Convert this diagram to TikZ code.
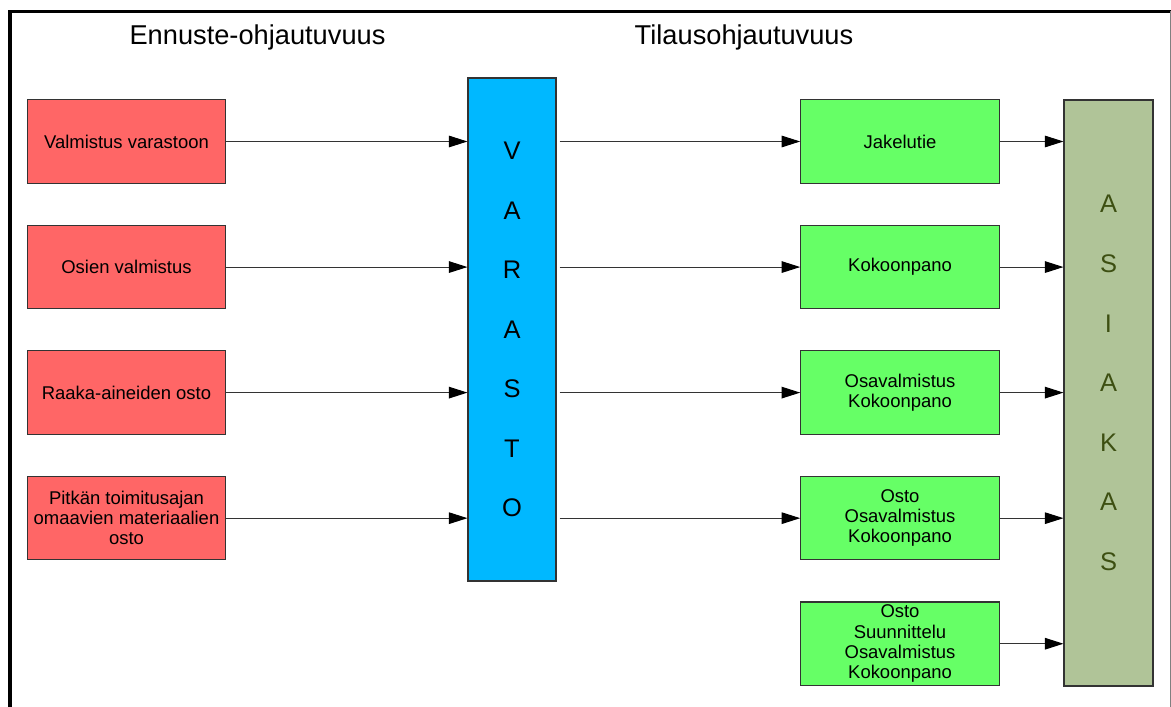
\documentclass[tikz,border=0pt]{standalone}
\usepackage{fontspec}
\setmainfont{Liberation Sans}
\usetikzlibrary{positioning,arrows.meta}
\definecolor{forecastred}{HTML}{FF6666}
\definecolor{stockblue}{HTML}{00B8FF}
\definecolor{ordergreen}{HTML}{66FF66}
\definecolor{customerolive}{HTML}{B0C498}
\definecolor{customertext}{HTML}{3D4F12}
\definecolor{edgegray}{HTML}{333333}

\begin{document}
\begin{tikzpicture}[
    node distance=0.82cm,
    phase/.style={
        rectangle,
        draw=edgegray,
        line width=0.6pt,
        minimum width=3.97cm,
        minimum height=1.67cm,
        inner sep=1pt,
        align=center,
        font=\fontsize{10.5}{11.5}\selectfont
    },
    forecast/.style={phase, fill=forecastred},
    order/.style={phase, fill=ordergreen},
    column/.style={
        rectangle,
        draw=edgegray,
        line width=0.6pt,
        inner sep=0pt,
        align=center,
        font=\fontsize{14.5}{33.9}\selectfont
    },
    heading/.style={font=\fontsize{15.5}{18}\selectfont},
    flow/.style={draw=edgegray, line width=0.6pt, -{Triangle[length=3.7mm,width=2.3mm,color=black]}}
]

\useasboundingbox (0,0) rectangle (23.42,-14.12);
\draw[line width=1.8pt] (0.2,-14.3) -- (0.2,-0.23) -- (23.5,-0.23);
\draw[gray, line width=0.5pt] (23.4,-0.23) -- (23.4,-14.3);

\node[heading] (fcasthead) at (5.15,-0.74) {Ennuste-ohjautuvuus};
\node[heading] (orderhead) at (14.88,-0.74) {Tilausohjautuvuus};

\node[forecast] (make) at (2.53,-2.83) {Valmistus varastoon};
\node[forecast, below=of make] (parts) {Osien valmistus};
\node[forecast, below=of parts] (raw) {Raaka-aineiden osto};
\node[forecast, below=of raw] (longlead) {Pitkän toimitusajan\\omaavien materiaalien\\osto};

\node[column, fill=stockblue, minimum width=1.76cm, minimum height=10.06cm] (stock) at (10.24,-6.59) {V\\A\\R\\A\\S\\T\\O};

\node[order] (dist) at (18.0,-2.83) {Jakelutie};
\node[order, below=of dist] (assy) {Kokoonpano};
\node[order, below=of assy] (partmfg) {Osavalmistus\\Kokoonpano};
\node[order, below=of partmfg] (buy) {Osto\\Osavalmistus\\Kokoonpano};
\node[order, below=of buy] (design) {Osto\\Suunnittelu\\Osavalmistus\\Kokoonpano};

\node[column, fill=customerolive, minimum width=1.78cm, minimum height=11.72cm,
    label={[column, draw=none, text=customertext, yshift=0.2cm]center:A\\S\\I\\A\\K\\A\\S}] (customer) at (22.17,-7.86) {};

\draw[flow] (make.east) -- (make.east -| stock.west);
\draw[flow] (parts.east) -- (parts.east -| stock.west);
\draw[flow] (raw.east) -- (raw.east -| stock.west);
\draw[flow] (longlead.east) -- (longlead.east -| stock.west);

\draw[flow, shorten <=0.06cm] (dist.west -| stock.east) -- (dist.west);
\draw[flow, shorten <=0.06cm] (assy.west -| stock.east) -- (assy.west);
\draw[flow, shorten <=0.06cm] (partmfg.west -| stock.east) -- (partmfg.west);
\draw[flow, shorten <=0.06cm] (buy.west -| stock.east) -- (buy.west);

\draw[flow] (dist.east) -- (dist.east -| customer.west);
\draw[flow] (assy.east) -- (assy.east -| customer.west);
\draw[flow] (partmfg.east) -- (partmfg.east -| customer.west);
\draw[flow] (buy.east) -- (buy.east -| customer.west);
\draw[flow] (design.east) -- (design.east -| customer.west);

\end{tikzpicture}
\end{document}
